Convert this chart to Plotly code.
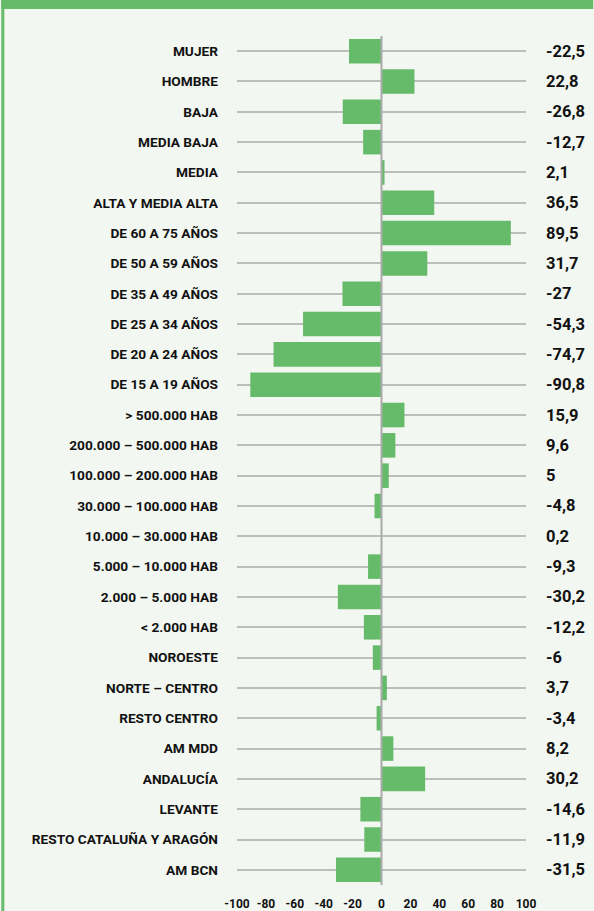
import plotly.graph_objects as go

categories = ["MUJER", "HOMBRE", "BAJA", "MEDIA BAJA", "MEDIA", "ALTA Y MEDIA ALTA",
              "DE 60 A 75 AÑOS", "DE 50 A 59 AÑOS", "DE 35 A 49 AÑOS", "DE 25 A 34 AÑOS",
              "DE 20 A 24 AÑOS", "DE 15 A 19 AÑOS", "> 500.000 HAB", "200.000 – 500.000 HAB",
              "100.000 – 200.000 HAB", "30.000 – 100.000 HAB", "10.000 – 30.000 HAB",
              "5.000 – 10.000 HAB", "2.000 – 5.000 HAB", "< 2.000 HAB", "NOROESTE",
              "NORTE – CENTRO", "RESTO CENTRO", "AM MDD", "ANDALUCÍA", "LEVANTE",
              "RESTO CATALUÑA Y ARAGÓN", "AM BCN"]
values = [-22.5, 22.8, -26.8, -12.7, 2.1, 36.5, 89.5, 31.7, -27, -54.3, -74.7, -90.8,
          15.9, 9.6, 5, -4.8, 0.2, -9.3, -30.2, -12.2, -6, 3.7, -3.4, 8.2, 30.2, -14.6,
          -11.9, -31.5]
value_labels = ["-22,5", "22,8", "-26,8", "-12,7", "2,1", "36,5", "89,5", "31,7", "-27",
                "-54,3", "-74,7", "-90,8", "15,9", "9,6", "5", "-4,8", "0,2", "-9,3",
                "-30,2", "-12,2", "-6", "3,7", "-3,4", "8,2", "30,2", "-14,6", "-11,9",
                "-31,5"]
x_ticks = [-100, -80, -60, -40, -20, 0, 20, 40, 60, 80, 100]

GREEN = "#66bb6a"
BG = "#f3f7f1"
FONT = "Roboto"

W, H = 594, 911
L, R, T, B = 236.5, 67.5, 36, 26
pw, ph = W - L - R, H - T - B

fig = go.Figure()
fig.add_trace(go.Bar(
    x=values, y=categories, orientation="h",
    marker=dict(color=GREEN, line=dict(width=0)),
    width=0.81, hoverinfo="skip",
))

def px_x(p):
    return (p - L) / pw

def px_y(p):
    return (H - B - p) / ph

annotations = []
for c, lab in zip(categories, value_labels):
    annotations.append(dict(
        x=px_x(545), y=c, xref="paper", yref="y", text="<b>%s</b>" % lab,
        showarrow=False, xanchor="left", yanchor="middle",
        font=dict(family=FONT, size=16.5, color="#111111"),
    ))

shapes = [
    dict(type="rect", xref="paper", yref="paper", x0=px_x(0), x1=px_x(W),
         y0=px_y(9), y1=px_y(0), fillcolor=GREEN, line=dict(width=0), layer="below"),
    dict(type="rect", xref="paper", yref="paper", x0=px_x(0), x1=px_x(3),
         y0=px_y(H), y1=px_y(0), fillcolor=GREEN, line=dict(width=0), layer="below"),
    dict(type="line", xref="x", yref="paper", x0=0, x1=0, y0=0, y1=1,
         line=dict(color="#aaaaaa", width=2), layer="above"),
]

fig.update_layout(
    width=W, height=H,
    margin=dict(l=L, r=R, t=T, b=B, pad=0, autoexpand=False),
    paper_bgcolor=BG, plot_bgcolor=BG,
    showlegend=False,
    annotations=annotations,
    shapes=shapes,
    xaxis=dict(
        range=[-100, 100], tickvals=x_ticks,
        ticktext=["<b>%d</b>" % v for v in x_ticks],
        showgrid=False, zeroline=False, showline=False, ticks="",
        ticklabelstandoff=10, automargin=False,
        tickfont=dict(family=FONT, size=12, color="#111111"),
        fixedrange=True,
    ),
    yaxis=dict(
        categoryorder="array", categoryarray=categories, autorange="reversed",
        tickvals=categories,
        ticktext=["<b>%s</b>" % c for c in categories],
        showgrid=True, gridcolor="#bdbdbd", gridwidth=1.5,
        zeroline=False, showline=False, ticks="",
        ticklabelstandoff=18, automargin=False,
        tickfont=dict(family=FONT, size=13.7, color="#111111"),
        fixedrange=True,
    ),
)

fig.write_html("out.html", config={"displayModeBar": False},
               post_script="document.body.style.margin='0';document.body.style.overflow='hidden';")
